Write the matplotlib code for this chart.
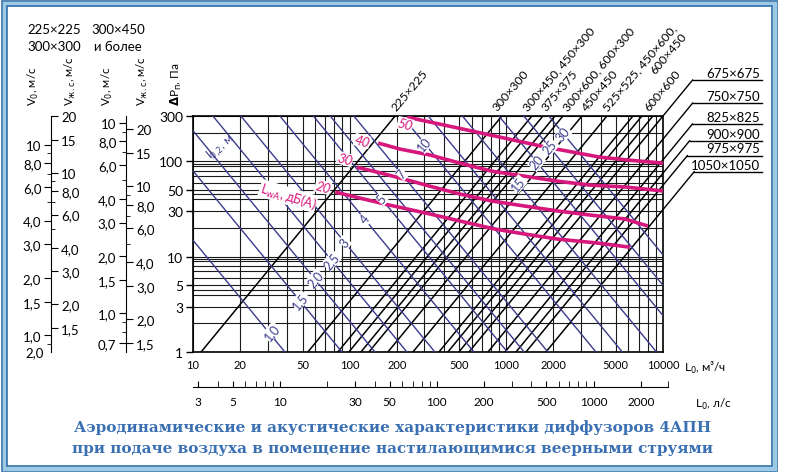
import numpy as np
import matplotlib.pyplot as plt
from matplotlib.patches import Rectangle
from matplotlib.ticker import NullFormatter
from matplotlib.font_manager import FontProperties

plt.rcParams['font.family'] = ['Lato', 'DejaVu Sans']

W, H = 785, 477
BLUE = '#3b3c8c'
PINK = '#d6177c'
TITLE = '#3a70b2'

# ---- data ----
x_ticks = [10, 20, 50, 100, 200, 500, 1000, 2000, 5000, 10000]
ls_ticks = [3, 5, 10, 30, 50, 100, 200, 500, 1000, 2000]
y_ticks = [1, 3, 5, 10, 30, 50, 100, 300]
x_grid = [10, 20, 30, 40, 50, 60, 70, 80, 90, 100, 200, 300, 400, 500, 600, 700, 800, 900,
          1000, 2000, 3000, 4000, 5000, 6000, 7000, 8000, 9000, 10000]
y_grid = [1, 2, 3, 4, 4.5, 5, 6, 7, 8, 9, 9.5, 10, 20, 30, 40, 45, 50, 60, 70, 80, 90, 95,
          100, 200, 300]

# diffuser lines: flow L (m3/h) at which dP = 300 Pa
diff_L300 = [195, 937, 1456, 1712, 2043, 2298, 3037, 4387, 6429, 7332, 8620]
top_labels = ['225×225', '300×300', '300×450, 450×300', '375×375', '300×600, 600×300',
              '450×450', '525×525, 450×600,', '600×600']
top_label_L = [200, 883, 1374, 1816, 2472, 3268, 4448, 8241]
top_label2 = '600×450'   # second line under '525×525, 450×600,'

right_labels = ['675×675', '750×750', '825×825', '900×900', '975×975', '1050×1050']
right_L300 = [10000, 13220, 16980, 19950, 23100, 30990]
right_dP = [715, 410, 247, 165, 115, 78]

# throw l0.2 lines: flow L (m3/h) at which dP = 1 Pa
throw_txt = ['1,0', '1,5', '2,0', '2,5', '3', '4', '5', '7', '10', '15', '20', '25', '30']
throw_L1 = [38.6, 89.3, 145, 232, 350, 621, 1016, 1841, 3733, 9085, 15520, 22400, 32350]
throw_lab_L = [31.8, 48.2, 60.1, 76.8, 93.3, 125, 160, 215, 302, 1191, 1561, 1898, 2307]
throw_lab_dP = [1.62, 3.45, 5.83, 9.08, 14.2, 24.9, 40.3, 73.8, 152, 57.9, 97.9, 141, 194]
throw_extra_L1 = [1300, 5500]

# sound level curves LwA, dB(A)
snd_levels = ['20', '30', '40', '50']
snd20_L = [81, 116, 168, 325, 506, 846, 1314, 2135, 3842, 6150]
snd20_P = [47.7, 41.3, 35.7, 28.1, 23.7, 19.5, 17.3, 15.3, 13.9, 12.6]
snd30_L = [111, 156, 225, 325, 506, 810, 1314, 2135, 3416, 5713, 8010]
snd30_P = [87, 76, 65, 55, 45.5, 38.4, 34, 30.2, 27.4, 24.9, 21]
snd40_L = [152, 209, 325, 506, 810, 1314, 2135, 3416, 5713, 10000]
snd40_P = [156, 135, 117, 96, 79, 70, 62, 56.5, 54, 49]
snd50_L = [232, 561, 911, 1763, 3956, 6150, 10000]
snd50_P = [292, 214, 180, 142, 111, 103, 96]
snd_lab_L = [67.5, 93.3, 120, 226]
snd_lab_P = [53.9, 106, 164, 246]

# velocity scales: labels and dP = k * v^2 factors
v0_a = [10, 8, 6, 4, 3, 2, 1.5, 1.0]
vjs_a = [20, 15, 10, 8, 6, 4, 3, 2, 1.5]
v0_b = [10, 8, 6, 4, 3, 2, 1.5, 1.0, 0.7]
vjs_b = [20, 15, 10, 8, 6, 4, 3, 2, 1.5]
k_v0_a, k_vjs_a = 1.5, 0.8
k_v0_b, k_vjs_b = 2.54, 0.55


def fmt(v):
    return str(int(v)) if v >= 10 else f'{v:.1f}'.replace('.', ',')


fig = plt.figure(figsize=(W / 100, H / 100), dpi=100)
y0, hh = (H - 353) / H, 236 / H

# ---- main nomogram ----
ax = fig.add_axes([193 / W, y0, 470 / W, hh])
ax.set_xscale('log')
ax.set_yscale('log')
ax.set_xlim(10, 10000)
ax.set_ylim(1, 300)
for v in x_grid:
    ax.axvline(v, color='#1a1a1a', lw=0.8, zorder=1)
for v in y_grid:
    ax.axhline(v, color='#1a1a1a', lw=0.8, zorder=1)

Lg = np.logspace(0, 5, 200)
for L300 in diff_L300 + right_L300:
    ax.plot(Lg, 300 * (Lg / L300) ** 2, color='black', lw=1.1, zorder=2)

# leaders of the big sizes, outside the plot
for L300, p, t in zip(right_L300, right_dP, right_labels):
    Lend = L300 * np.sqrt(p / 300)
    seg = np.logspace(4, np.log10(Lend), 50)
    ax.plot(seg, 300 * (seg / L300) ** 2, color='black', lw=1.0, zorder=2, clip_on=False)
    ax.plot([Lend, 42700], [p, p], color='black', lw=1.0, clip_on=False)
    ax.text(41500, p * 1.03, t, ha='right', va='bottom', fontsize=9.5, clip_on=False)

for L1 in throw_L1 + throw_extra_L1:
    ax.plot(Lg, (L1 / Lg) ** 2, color=BLUE, lw=1.0, zorder=3)
for t, lx, ly in zip(throw_txt, throw_lab_L, throw_lab_dP):
    ax.text(lx, ly, t, color=BLUE, fontsize=9, rotation=50, ha='center', va='center',
            bbox=dict(facecolor='white', edgecolor='none', pad=0.3), zorder=6)
ax.text(15.0, 141.6, r'l$_{0{,}2}$, м', color=BLUE, fontsize=8.5, rotation=40,
        ha='center', va='center', zorder=6)

for Ls, Ps in [(snd20_L, snd20_P), (snd30_L, snd30_P), (snd40_L, snd40_P), (snd50_L, snd50_P)]:
    ax.plot(Ls, Ps, color=PINK, lw=2.6, zorder=4, solid_capstyle='butt')
for t, lx, ly in zip(snd_levels, snd_lab_L, snd_lab_P):
    ax.text(lx, ly, t, color=PINK, fontsize=9.5, rotation=-15, ha='center', va='center',
            style='italic', bbox=dict(facecolor='white', edgecolor='none', pad=0.3), zorder=6)
ax.text(40.4, 43.4, r'L$_{\rm wA}$, дБ(А)', color=PINK, fontsize=9, rotation=-17,
        ha='center', va='center', bbox=dict(facecolor='white', edgecolor='none', pad=0.3),
        zorder=6)

TOP_FS = 8.8
for t, lx in zip(top_labels, top_label_L):
    ax.text(lx, 340, t, rotation=50, rotation_mode='anchor', ha='left', va='baseline',
            fontsize=TOP_FS, clip_on=False)

# second line of the '525x525' label: right-aligned under the first line
rend = fig.canvas.get_renderer()
w1, _, _ = rend.get_text_width_height_descent(top_labels[6], FontProperties(size=TOP_FS), ismath=False)
ang = np.radians(50)
gap = 13
dx = w1 * np.cos(ang) + gap * np.sin(ang)
dy = w1 * np.sin(ang) - gap * np.cos(ang)
ax.annotate(top_label2, xy=(top_label_L[6], 340), xytext=(dx, dy), textcoords='offset pixels',
            rotation=50, rotation_mode='anchor', ha='right', va='baseline', fontsize=TOP_FS,
            annotation_clip=False)

ax.set_xticks(x_ticks, [str(v) for v in x_ticks])
ax.set_yticks(y_ticks, [str(v) for v in y_ticks])
ax.xaxis.set_minor_formatter(NullFormatter())
ax.yaxis.set_minor_formatter(NullFormatter())
ax.tick_params(which='minor', length=0)
ax.tick_params(axis='x', length=0, labelsize=8, pad=5)
ax.tick_params(axis='y', length=5, width=1, labelsize=10, pad=2)
for s in ax.spines.values():
    s.set_linewidth(1.2)

# ---- L, l/s axis ----
axl = fig.add_axes([193 / W, (H - 387.7) / H, 475.3 / W, 0.0001])
axl.set_xscale('log')
axl.set_xlim(10 / 3.6, 3000)
for s in ['top', 'left', 'right']:
    axl.spines[s].set_visible(False)
axl.set_yticks([])
axl.set_xticks(ls_ticks, [str(v) for v in ls_ticks])
axl.xaxis.set_minor_formatter(NullFormatter())
axl.tick_params(axis='x', which='both', direction='in', length=4, labelsize=8.5, pad=7)

fig.text(684 / W, 1 - 368 / H, r'L$_0$, м³/ч', fontsize=8.5, va='center')
fig.text(695 / W, 1 - 404 / H, r'L$_0$, л/с', fontsize=8.5, va='center')


# ---- velocity scales ----
def vel_scale(x_px, k_l, vl, k_r, vr):
    a = fig.add_axes([x_px / W, y0, 0.3 / W, hh])
    a.set_yscale('log')
    a.set_ylim(np.sqrt(1 / k_l), np.sqrt(300 / k_l))
    a.set_yticks(vl, [fmt(v) for v in vl])
    a.yaxis.set_minor_formatter(NullFormatter())
    a.set_xticks([])
    for s in ['top', 'bottom', 'right']:
        a.spines[s].set_visible(False)
    a.tick_params(axis='y', which='major', length=5, labelsize=9.5, pad=2)
    a.tick_params(axis='y', which='minor', length=3)
    b = a.twinx()
    b.set_yscale('log')
    b.set_ylim(np.sqrt(1 / k_r), np.sqrt(300 / k_r))
    b.set_yticks(vr, [fmt(v) for v in vr])
    b.yaxis.set_minor_formatter(NullFormatter())
    for s in ['top', 'bottom', 'right', 'left']:
        b.spines[s].set_visible(False)
    b.tick_params(axis='y', which='major', length=5, labelsize=9.5, pad=2)
    b.tick_params(axis='y', which='minor', length=3)
    return a


vel_scale(51, k_v0_a, v0_a, k_vjs_a, vjs_a)
vel_scale(126, k_v0_b, v0_b, k_vjs_b, vjs_b)
fig.text(44 / W, 1 - 353 / H, '2,0', fontsize=9.5, ha='right', va='center')

fig.text(54 / W, 1 - 30 / H, '225×225', fontsize=9.5, ha='center', va='center')
fig.text(54 / W, 1 - 47 / H, '300×300', fontsize=9.5, ha='center', va='center')
fig.text(118 / W, 1 - 30 / H, '300×450', fontsize=9.5, ha='center', va='center')
fig.text(118 / W, 1 - 47 / H, 'и более', fontsize=9.5, ha='center', va='center')
for xp, t in [(33, r'V$_0$, м/с'), (70, r'V$_{\rm ж.с}$, м/с'),
              (107, r'V$_0$, м/с'), (142, r'V$_{\rm ж.с}$, м/с')]:
    fig.text(xp / W, 1 - 106 / H, t, fontsize=8.3, rotation=90, ha='center', va='bottom')
fig.text(176 / W, 1 - 106 / H, r'$\mathbf{\Delta}$P$_{\rm п}$, Па', fontsize=8.5,
         rotation=90, ha='center', va='bottom')

# ---- title ----
fig.text(393 / W, 1 - 428 / H,
         'Аэродинамические и акустические характеристики диффузоров 4АПН',
         family='DejaVu Serif', weight='bold', fontsize=11, color=TITLE, ha='center', va='center')
fig.text(393 / W, 1 - 449 / H,
         'при подаче воздуха в помещение настилающимися веерными струями',
         family='DejaVu Serif', weight='bold', fontsize=11, color=TITLE, ha='center', va='center')

# ---- frame ----
for (x, y, w, h, lw, c) in [(2, 2, 775, 470, 1.2, '#2f6fa7'), (4.5, 4.5, 770, 465, 3.0, '#9cc9e6'),
                            (7, 7, 765, 460, 1.2, '#2f6fa7')]:
    fig.patches.append(Rectangle((x / W, 1 - (y + h) / H), w / W, h / H, fill=False, lw=lw,
                                 edgecolor=c, transform=fig.transFigure))

fig.savefig('out.png', dpi=100)
